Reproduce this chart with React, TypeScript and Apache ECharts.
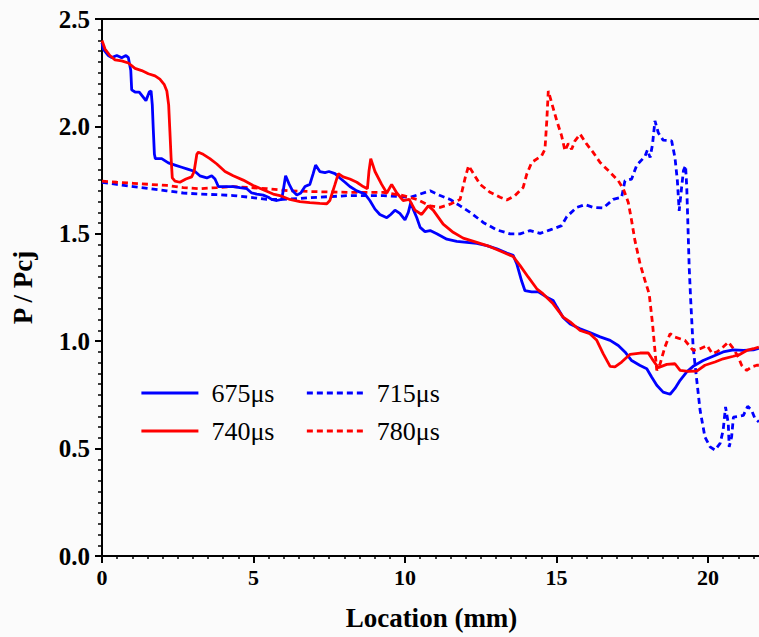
import React, { useEffect, useRef } from "react";
import * as echarts from "echarts";

// Location along the channel (mm) and normalised pressure P/Pcj for each time
const loc675 = [0, 0.04, 0.21, 0.32, 0.49, 0.65, 0.79, 0.87, 0.95, 0.98, 1.09, 1.23, 1.34, 1.45, 1.56, 1.62, 1.66, 1.69, 1.73, 1.76, 1.97, 2.19, 2.41, 2.63, 2.85, 3.07, 3.23, 3.46, 3.62, 3.73, 3.84, 4.06, 4.33, 4.55, 4.78, 4.94, 5.11, 5.32, 5.49, 5.6, 5.77, 5.93, 5.98, 6.06, 6.18, 6.29, 6.43, 6.56, 6.7, 6.86, 6.97, 7.05, 7.19, 7.36, 7.49, 7.69, 7.85, 8.02, 8.18, 8.41, 8.68, 8.84, 9.01, 9.17, 9.4, 9.53, 9.67, 9.83, 10.0, 10.11, 10.19, 10.27, 10.39, 10.5, 10.66, 10.83, 11.05, 11.38, 11.71, 12.04, 12.37, 12.7, 13.03, 13.36, 13.57, 13.69, 13.85, 13.96, 14.18, 14.4, 14.68, 14.89, 15.01, 15.22, 15.45, 15.78, 16.1, 16.44, 16.77, 17.04, 17.26, 17.48, 17.76, 17.98, 18.14, 18.31, 18.52, 18.75, 18.91, 19.08, 19.3, 19.51, 19.84, 20.17, 20.5, 20.84, 21.17, 21.5, 21.68];
const p675 = [2.39, 2.36, 2.33, 2.32, 2.33, 2.32, 2.33, 2.32, 2.26, 2.17, 2.16, 2.16, 2.14, 2.12, 2.16, 2.165, 2.1, 1.995, 1.87, 1.85, 1.85, 1.83, 1.82, 1.81, 1.8, 1.79, 1.77, 1.76, 1.77, 1.755, 1.72, 1.72, 1.72, 1.715, 1.71, 1.69, 1.685, 1.68, 1.67, 1.66, 1.655, 1.66, 1.7, 1.77, 1.73, 1.7, 1.68, 1.69, 1.72, 1.73, 1.78, 1.82, 1.79, 1.785, 1.79, 1.78, 1.76, 1.74, 1.72, 1.7, 1.685, 1.655, 1.615, 1.59, 1.575, 1.59, 1.61, 1.595, 1.565, 1.6, 1.645, 1.615, 1.575, 1.53, 1.51, 1.515, 1.5, 1.475, 1.465, 1.46, 1.455, 1.445, 1.43, 1.41, 1.4, 1.36, 1.28, 1.235, 1.23, 1.23, 1.205, 1.19, 1.16, 1.11, 1.08, 1.058, 1.04, 1.02, 1.004, 0.98, 0.95, 0.91, 0.887, 0.872, 0.833, 0.795, 0.763, 0.753, 0.78, 0.818, 0.857, 0.883, 0.91, 0.93, 0.95, 0.96, 0.957, 0.96, 0.967];

const loc715 = [0, 0.49, 1.03, 1.58, 2.14, 2.68, 3.23, 3.79, 4.33, 4.88, 5.44, 5.98, 7.09, 8.18, 9.28, 10.17, 10.5, 10.83, 11.16, 11.49, 11.82, 12.15, 12.58, 13.03, 13.47, 13.8, 14.13, 14.46, 14.79, 15.17, 15.34, 15.67, 15.94, 16.21, 16.54, 16.87, 17.15, 17.26, 17.48, 17.65, 17.92, 18.0, 18.09, 18.17, 18.25, 18.36, 18.52, 18.8, 18.91, 18.99, 19.05, 19.13, 19.19, 19.26, 19.3, 19.33, 19.38, 19.43, 19.51, 19.63, 19.74, 19.9, 20.07, 20.23, 20.4, 20.5, 20.58, 20.67, 20.7, 20.78, 20.84, 21.0, 21.17, 21.31, 21.44, 21.55, 21.68];
const p715 = [1.74, 1.73, 1.72, 1.71, 1.7, 1.69, 1.685, 1.682, 1.678, 1.67, 1.66, 1.66, 1.67, 1.678, 1.678, 1.67, 1.685, 1.7, 1.678, 1.66, 1.63, 1.6, 1.553, 1.518, 1.5, 1.5, 1.515, 1.502, 1.518, 1.538, 1.58, 1.623, 1.636, 1.623, 1.62, 1.66, 1.67, 1.747, 1.755, 1.82, 1.86, 1.89, 1.855, 1.917, 2.026, 1.97, 1.936, 1.933, 1.855, 1.747, 1.607, 1.716, 1.794, 1.817, 1.716, 1.577, 1.344, 1.19, 0.973, 0.818, 0.678, 0.554, 0.508, 0.493, 0.524, 0.585, 0.694, 0.617, 0.508, 0.554, 0.647, 0.65, 0.655, 0.697, 0.678, 0.64, 0.624];

const loc740 = [0, 0.1, 0.26, 0.43, 0.65, 0.87, 1.09, 1.31, 1.53, 1.75, 1.91, 2.05, 2.14, 2.2, 2.24, 2.28, 2.32, 2.41, 2.57, 2.77, 2.96, 3.04, 3.13, 3.18, 3.34, 3.56, 3.79, 4.06, 4.33, 4.66, 4.99, 5.32, 5.65, 5.87, 6.2, 6.53, 6.86, 7.19, 7.42, 7.52, 7.69, 7.8, 7.96, 8.18, 8.41, 8.62, 8.76, 8.81, 8.87, 9.01, 9.23, 9.4, 9.56, 9.73, 9.94, 10.14, 10.33, 10.55, 10.77, 10.93, 11.26, 11.59, 11.92, 12.37, 12.81, 13.24, 13.57, 13.8, 14.07, 14.35, 14.56, 14.89, 15.22, 15.45, 15.78, 16.1, 16.33, 16.54, 16.77, 16.93, 17.15, 17.43, 17.76, 18.03, 18.19, 18.36, 18.64, 18.91, 19.08, 19.35, 19.63, 19.9, 20.23, 20.5, 20.84, 21.06, 21.28, 21.5, 21.68];
const p740 = [2.4, 2.36, 2.33, 2.31, 2.305, 2.295, 2.27, 2.26, 2.245, 2.235, 2.22, 2.196, 2.165, 2.1, 1.98, 1.855, 1.76, 1.745, 1.74, 1.755, 1.765, 1.79, 1.87, 1.88, 1.87, 1.85, 1.825, 1.79, 1.77, 1.75, 1.725, 1.705, 1.685, 1.678, 1.66, 1.65, 1.645, 1.642, 1.64, 1.655, 1.73, 1.78, 1.765, 1.755, 1.74, 1.72, 1.71, 1.79, 1.85, 1.79, 1.73, 1.69, 1.73, 1.69, 1.655, 1.66, 1.61, 1.59, 1.63, 1.61, 1.545, 1.507, 1.48, 1.46, 1.44, 1.414, 1.394, 1.352, 1.298, 1.244, 1.22, 1.174, 1.112, 1.09, 1.05, 1.035, 1.004, 0.942, 0.883, 0.88, 0.903, 0.939, 0.945, 0.945, 0.91, 0.877, 0.892, 0.895, 0.864, 0.86, 0.861, 0.888, 0.903, 0.918, 0.93, 0.939, 0.957, 0.965, 0.973];

const loc780 = [0, 0.49, 1.03, 1.58, 2.14, 2.68, 3.23, 3.79, 4.33, 4.88, 5.44, 6.2, 7.09, 8.18, 9.28, 9.94, 10.39, 10.83, 11.16, 11.49, 11.82, 11.99, 12.1, 12.26, 12.48, 12.81, 13.14, 13.36, 13.63, 13.9, 14.02, 14.18, 14.51, 14.62, 14.68, 14.73, 14.84, 15.01, 15.17, 15.28, 15.39, 15.5, 15.61, 15.78, 16.0, 16.21, 16.44, 16.77, 17.04, 17.21, 17.37, 17.48, 17.59, 17.76, 17.92, 18.06, 18.17, 18.25, 18.31, 18.42, 18.58, 18.75, 18.91, 19.24, 19.51, 19.74, 19.97, 20.14, 20.3, 20.5, 20.67, 20.84, 21.0, 21.11, 21.28, 21.44, 21.61, 21.68];
const p780 = [1.745, 1.74, 1.735, 1.73, 1.725, 1.715, 1.71, 1.715, 1.72, 1.715, 1.71, 1.7, 1.696, 1.693, 1.693, 1.678, 1.66, 1.63, 1.623, 1.638, 1.66, 1.763, 1.817, 1.78, 1.73, 1.693, 1.67, 1.657, 1.678, 1.716, 1.778, 1.832, 1.863, 1.894, 2.026, 2.165, 2.11, 2.026, 1.956, 1.887, 1.92, 1.894, 1.933, 1.964, 1.917, 1.879, 1.832, 1.786, 1.747, 1.708, 1.646, 1.561, 1.468, 1.36, 1.283, 1.22, 1.081, 0.957, 0.864, 0.895, 0.973, 1.035, 1.019, 1.004, 0.957, 0.965, 0.98, 0.942, 0.95, 0.973, 0.996, 0.965, 0.926, 0.888, 0.864, 0.88, 0.888, 0.888];

const xTicks = { min: 0, max: 21.75, step: 5 };
const yTicks = { min: 0, max: 2.5, step: 0.5 };

const BLUE = "#0000ff";
const RED = "#ff0000";
const SERIF = "Liberation Serif";

const zip = (xs: number[], ys: number[]) => xs.map((x, i) => [x, ys[i]]);

const lineSeries = (name: string, xs: number[], ys: number[], color: string, dashed: boolean) => ({
  name,
  type: "line",
  data: zip(xs, ys),
  showSymbol: false,
  symbol: "none",
  smooth: false,
  color,
  lineStyle: { color, width: 2.8, type: dashed ? [6, 4] : "solid" },
  z: dashed ? 2 : 3,
});

// One legend row per pair of times; the marker dot is hidden so only the line sample shows
const legendRow = (names: string[], top: number) => ({
  data: names,
  left: 140,
  top,
  padding: 0,
  itemWidth: 57,
  itemHeight: 14,
  itemGap: 31,
  itemStyle: { opacity: 0 },
  lineStyle: { width: 2.8 },
  textStyle: { fontFamily: SERIF, fontSize: 26, color: "#000", padding: [0, 0, 0, 8] },
});

export default function App() {
  const ref = useRef<HTMLDivElement>(null);

  useEffect(() => {
    if (!ref.current) return;
    const chart = echarts.init(ref.current, null, { renderer: "svg" });
    chart.setOption({
      animation: false,
      backgroundColor: "#fbfbfb",
      grid: {
        left: 102,
        top: 19,
        width: 659,
        height: 537,
        show: true,
        borderColor: "#000",
        borderWidth: 2,
        backgroundColor: "transparent",
      },
      legend: [legendRow(["675μs", "715μs"], 380), legendRow(["740μs", "780μs"], 418)],
      xAxis: {
        type: "value",
        min: xTicks.min,
        max: xTicks.max,
        interval: xTicks.step,
        name: "Location (mm)",
        nameLocation: "middle",
        nameGap: 48,
        nameTextStyle: { fontFamily: SERIF, fontWeight: "bold", fontSize: 27, color: "#000" },
        axisLine: { show: true, onZero: false, lineStyle: { color: "#000", width: 2 } },
        axisTick: { show: true, inside: false, length: 7, lineStyle: { color: "#000", width: 2 } },
        minorTick: { show: true, splitNumber: 10, length: 3, lineStyle: { color: "#000", width: 1.5 } },
        axisLabel: {
          margin: 10,
          showMaxLabel: false,
          fontFamily: SERIF,
          fontWeight: "bold",
          fontSize: 22,
          color: "#000",
        },
        splitLine: { show: false },
      },
      yAxis: {
        type: "value",
        min: yTicks.min,
        max: yTicks.max,
        interval: yTicks.step,
        name: "P / Pcj",
        nameLocation: "middle",
        nameGap: 66,
        nameRotate: 90,
        nameTextStyle: { fontFamily: SERIF, fontWeight: "bold", fontSize: 27, color: "#000" },
        axisLine: { show: true, onZero: false, lineStyle: { color: "#000", width: 2 } },
        axisTick: { show: true, inside: false, length: 7, lineStyle: { color: "#000", width: 2 } },
        minorTick: { show: true, splitNumber: 10, length: 4, lineStyle: { color: "#000", width: 1.5 } },
        axisLabel: {
          margin: 12,
          formatter: (v: number) => v.toFixed(1),
          fontFamily: SERIF,
          fontWeight: "bold",
          fontSize: 25,
          color: "#000",
        },
        splitLine: { show: false },
      },
      series: [
        lineSeries("675μs", loc675, p675, BLUE, false),
        lineSeries("715μs", loc715, p715, BLUE, true),
        lineSeries("740μs", loc740, p740, RED, false),
        lineSeries("780μs", loc780, p780, RED, true),
      ],
    });
    return () => chart.dispose();
  }, []);

  return (
    <div
      style={{
        position: "absolute",
        left: 0,
        top: 0,
        width: 759,
        height: 637,
        overflow: "hidden",
        background: "#fbfbfb",
      }}
    >
      <div ref={ref} style={{ width: 790, height: 637 }} />
    </div>
  );
}
